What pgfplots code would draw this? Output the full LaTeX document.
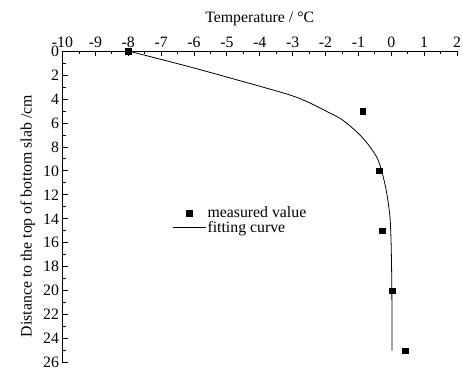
\documentclass[border=0pt]{standalone}
\usepackage{fontspec}
\setmainfont{Liberation Serif}
\usepackage{pgfplots}
\pgfplotsset{compat=1.18}
\pgfplotsset{
  marklegend/.style={legend image code/.code={\draw[##1] plot coordinates {(0.58cm,0cm)};}},
  linelegend/.style={legend image code/.code={\draw[##1] (0cm,0cm) -- (1.16cm,0cm);}},
}
\begin{document}
\begin{tikzpicture}
\useasboundingbox (-62.5bp,-8.3bp) rectangle (400.5bp,362.7bp);
\begin{axis}[
  at={(0,0)}, anchor=south west,
  scale only axis, width=394.5bp, height=311.7bp,
  font=\fontsize{15.8bp}{19bp}\selectfont,
  /pgf/number format/assume math mode=true,
  xmin=-10, xmax=2, ymin=0, ymax=26,
  y dir=reverse,
  axis x line*=top, axis y line*=left,
  axis line style={-, line width=0.8pt},
  xtick={-10,-9,...,2}, ytick={0,2,...,26},
  minor x tick num=1, minor y tick num=1,
  tick align=inside,
  major tick length=5bp, minor tick length=3bp,
  tick style={black, line width=0.8pt},
  xticklabel style={anchor=base, yshift=3.5bp},
  xlabel={Temperature / °C},
  ylabel={Distance to the top of bottom slab /cm},
  xlabel style={at={(0.5,1.092)}, anchor=base},
  ylabel style={at={(-0.0781,0.47)}, anchor=base},
  legend style={at={(0.278,0.506)}, anchor=north west, draw=none, fill=none,
    inner sep=0pt, row sep=-1bp, nodes={inner sep=1.5bp}},
  legend cell align=left,
]
\addplot[only marks, mark=square*, mark size=2.8bp, black, marklegend]
  coordinates {(-8,0) (-0.87,5) (-0.37,10) (-0.27,15) (0.02,20) (0.43,25)};
\addlegendentry{measured value}
\addplot[black, line width=0.8pt, smooth, tension=0.5, linelegend]
  coordinates {(-8,0) (-6.12,1.33) (-4.30,2.71) (-3.08,3.67) (-2.47,4.34) (-1.86,5.19) (-1.56,5.61) (-1.25,6.26) (-0.95,7.01) (-0.65,7.98) (-0.40,9.09) (-0.22,10.76) (-0.12,12.15) (-0.04,13.82) (-0.01,15.5) (0.01,18) (0.02,21) (0.02,25)};
\addlegendentry{fitting curve}
\end{axis}
\end{tikzpicture}
\end{document}
